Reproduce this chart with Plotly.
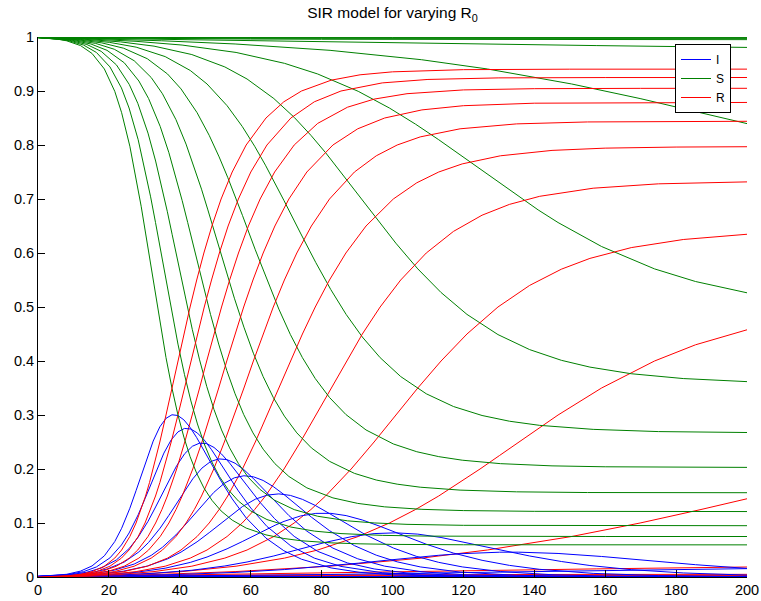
import plotly.graph_objects as go

# ---- tick values ----
x_ticks = [0, 20, 40, 60, 80, 100, 120, 140, 160, 180, 200]
x_tick_labels = ["0", "20", "40", "60", "80", "100", "120", "140", "160", "180", "200"]
y_ticks = [0, 0.1, 0.2, 0.3, 0.4, 0.5, 0.6, 0.7, 0.8, 0.9, 1.0]
y_tick_labels = ["0", "0.1", "0.2", "0.3", "0.4", "0.5", "0.6", "0.7", "0.8", "0.9", "1"]

# ---- R0 = 0.2 ----
t_r02 = [0, 10, 20, 40, 60, 100, 200]
s_r02 = [0.999, 0.9989, 0.9988, 0.9988, 0.9988, 0.9988, 0.9988]
i_r02 = [0.001, 0.00045, 0.0002, 0.00004, 0.00001, 0.0, 0.0]
r_r02 = [0, 0.00069, 0.0010, 0.0012, 0.00124, 0.00125, 0.00125]

# ---- R0 = 0.4 ----
t_r04 = [0, 10, 20, 40, 60, 100, 200]
s_r04 = [0.999, 0.9987, 0.9985, 0.9984, 0.9984, 0.9983, 0.9983]
i_r04 = [0.001, 0.00055, 0.0003, 0.00009, 0.00003, 0.000002, 0.0]
r_r04 = [0, 0.00075, 0.00117, 0.00152, 0.00162, 0.00166, 0.00167]

# ---- R0 = 0.6 ----
t_r06 = [0, 20, 40, 60, 80, 100, 140, 200]
s_r06 = [0.999, 0.9982, 0.9978, 0.9976, 0.9976, 0.9975, 0.9975, 0.9975]
i_r06 = [0.001, 0.00045, 0.00020, 0.00009, 0.00004, 0.00002, 0.000004, 0.0]
r_r06 = [0, 0.00138, 0.0020, 0.00227, 0.0024, 0.00245, 0.00249, 0.0025]

# ---- R0 = 0.8 ----
t_r08 = [0, 20, 40, 60, 80, 100, 140, 200]
s_r08 = [0.999, 0.9977, 0.9968, 0.9962, 0.9958, 0.9955, 0.9952, 0.9951]
i_r08 = [0.001, 0.00067, 0.00045, 0.00030, 0.00020, 0.000135, 0.00006, 0.00002]
r_r08 = [0, 0.00165, 0.00275, 0.00349, 0.00399, 0.00432, 0.0047, 0.00491]

# ---- R0 = 1.0 ----
t_r10 = [0, 20.04, 50.34, 102.32, 157.45, 200]
s_r10 = [0.999, 0.9970, 0.9940, 0.9891, 0.9841, 0.9807]
i_r10 = [0.001, 0.00100, 0.00098, 0.00094, 0.00087, 0.00080]
r_r10 = [0, 0.002, 0.005, 0.01, 0.015, 0.0185]

# ---- R0 = 1.2 ----
t_r12 = [0, 9.12, 16.84, 34.90, 55.60, 82.39, 108.22, 126.76, 150.53, 169.84, 187.02, 200]
s_r12 = [0.999, 0.9978, 0.9966, 0.9930, 0.9871, 0.9753, 0.9579, 0.9408, 0.9130, 0.8860, 0.8598, 0.8396]
i_r12 = [0.001, 0.0012, 0.0014, 0.0020, 0.0029, 0.0047, 0.0071, 0.0092, 0.0120, 0.0140, 0.0152, 0.0155]
r_r12 = [0, 0.001, 0.002, 0.005, 0.01, 0.02, 0.035, 0.05, 0.075, 0.1, 0.125, 0.1449]

# ---- R0 = 1.4 ----
t_r14 = [0, 8.42, 14.71, 27.65, 40.64, 55.88, 69.55, 78.90, 90.33, 99.12, 106.50, 113.03,
         119.04, 124.69, 130.19, 135.61, 141.09, 146.70, 158.98, 173.91, 185.47, 200]
s_r14 = [0.999, 0.9976, 0.9962, 0.9920, 0.9851, 0.9714, 0.9512, 0.9315, 0.8994, 0.8685, 0.8386, 0.8098,
         0.7819, 0.7550, 0.7291, 0.7040, 0.6798, 0.6564, 0.6120, 0.5706, 0.5472, 0.5263]
i_r14 = [0.001, 0.0014, 0.0018, 0.0030, 0.0049, 0.0086, 0.0138, 0.0185, 0.0256, 0.0315, 0.0364, 0.0402,
         0.0431, 0.0450, 0.0459, 0.0460, 0.0452, 0.0436, 0.0380, 0.0294, 0.0228, 0.0159]
r_r14 = [0, 0.001, 0.002, 0.005, 0.01, 0.02, 0.035, 0.05, 0.075, 0.1, 0.125, 0.15,
         0.175, 0.2, 0.225, 0.25, 0.275, 0.3, 0.35, 0.4, 0.43, 0.4578]

# ---- R0 = 1.6 ----
t_r16 = [0, 7.84, 13.15, 23.25, 32.73, 43.39, 52.70, 58.97, 66.53, 72.26, 76.99, 81.12, 88.34,
         94.80, 100.94, 107.14, 113.70, 121.01, 129.75, 138.69, 147.63, 155.69, 167.35, 182.02, 200]
s_r16 = [0.999, 0.9974, 0.9958, 0.9910, 0.9831, 0.9675, 0.9446, 0.9222, 0.8860, 0.8513, 0.8179, 0.7858, 0.7254,
         0.6697, 0.6182, 0.5706, 0.5268, 0.4863, 0.4489, 0.4211, 0.4013, 0.3887, 0.3764, 0.3675, 0.3618]
i_r16 = [0.001, 0.0016, 0.0022, 0.0040, 0.0069, 0.0125, 0.0204, 0.0278, 0.0390, 0.0487, 0.0571, 0.0642, 0.0746,
         0.0804, 0.0818, 0.0794, 0.0732, 0.0637, 0.0511, 0.0389, 0.0287, 0.0213, 0.0136, 0.0075, 0.0035]
r_r16 = [0, 0.001, 0.002, 0.005, 0.01, 0.02, 0.035, 0.05, 0.075, 0.1, 0.125, 0.15, 0.2,
         0.25, 0.3, 0.35, 0.4, 0.45, 0.5, 0.54, 0.57, 0.59, 0.61, 0.625, 0.6347]

# ---- R0 = 1.8 ----
t_r18 = [0, 7.35, 11.95, 20.22, 27.68, 35.88, 42.95, 47.68, 53.34, 57.61, 61.12, 64.16, 66.89, 69.40,
         74.03, 78.37, 82.61, 86.92, 91.49, 96.51, 102.31, 109.52, 117.20, 125.26, 132.98, 141.52, 156.61, 175, 200]
s_r18 = [0.999, 0.9972, 0.9954, 0.9900, 0.9812, 0.9637, 0.9380, 0.9130, 0.8728, 0.8344, 0.7977, 0.7626, 0.7291, 0.6970,
         0.6370, 0.5822, 0.5321, 0.4863, 0.4444, 0.4062, 0.3712, 0.3393, 0.3157, 0.2991, 0.2885, 0.2808, 0.2734, 0.2693, 0.2676]
i_r18 = [0.001, 0.0018, 0.0026, 0.0050, 0.0088, 0.0163, 0.0270, 0.0370, 0.0522, 0.0656, 0.0773, 0.0874, 0.0959, 0.1030,
         0.1130, 0.1178, 0.1179, 0.1137, 0.1056, 0.0938, 0.0788, 0.0607, 0.0443, 0.0309, 0.0215, 0.0142, 0.0067, 0.0026, 0.0007]
r_r18 = [0, 0.001, 0.002, 0.005, 0.01, 0.02, 0.035, 0.05, 0.075, 0.1, 0.125, 0.15, 0.175, 0.2,
         0.25, 0.3, 0.35, 0.4, 0.45, 0.5, 0.55, 0.6, 0.64, 0.67, 0.69, 0.705, 0.72, 0.7281, 0.7317]

# ---- R0 = 2.0 ----
t_r20 = [0, 6.94, 11.00, 18.00, 24.16, 30.83, 36.54, 40.34, 44.88, 48.29, 51.09, 53.51, 55.68, 57.67, 61.30, 64.67,
         67.94, 71.20, 74.59, 78.21, 82.22, 86.85, 92.53, 100.23, 106.84, 113.04, 119.67, 130.43, 145, 160, 180, 200]
s_r20 = [0.999, 0.9970, 0.9950, 0.9891, 0.9792, 0.9598, 0.9315, 0.9039, 0.8598, 0.8179, 0.7780, 0.7401, 0.7040, 0.6697,
         0.6059, 0.5483, 0.4961, 0.4489, 0.4062, 0.3675, 0.3325, 0.3009, 0.2723, 0.2464, 0.2320, 0.2229, 0.2163, 0.2099,
         0.2058, 0.2041, 0.2033, 0.2030]
i_r20 = [0.001, 0.0020, 0.0030, 0.0059, 0.0108, 0.0202, 0.0335, 0.0461, 0.0652, 0.0821, 0.0970, 0.1099, 0.1210, 0.1304,
         0.1441, 0.1517, 0.1539, 0.1511, 0.1438, 0.1325, 0.1175, 0.0991, 0.0777, 0.0537, 0.0380, 0.0271, 0.0187, 0.0101,
         0.0042, 0.0017, 0.0005, 0.0002]
r_r20 = [0, 0.001, 0.002, 0.005, 0.01, 0.02, 0.035, 0.05, 0.075, 0.1, 0.125, 0.15, 0.175, 0.2, 0.25, 0.3,
         0.35, 0.4, 0.45, 0.5, 0.55, 0.6, 0.65, 0.7, 0.73, 0.75, 0.765, 0.78, 0.79, 0.7942, 0.7962, 0.7968]

# ---- R0 = 2.2 ----
t_r22 = [0, 6.57, 10.21, 16.28, 21.52, 27.14, 31.93, 35.11, 38.91, 41.76, 44.10, 46.12, 47.92, 49.58, 52.57, 55.39,
         58.09, 60.75, 63.50, 66.37, 69.50, 73.01, 77.12, 82.23, 89.26, 95.42, 101.32, 107.81, 119.06, 135, 155, 180, 200]
s_r22 = [0.999, 0.9968, 0.9946, 0.9881, 0.9773, 0.9560, 0.9250, 0.8949, 0.8470, 0.8017, 0.7588, 0.7182, 0.6798, 0.6434,
         0.5764, 0.5163, 0.4626, 0.4144, 0.3712, 0.3325, 0.2979, 0.2669, 0.2391, 0.2142, 0.1919, 0.1796, 0.1719, 0.1663,
         0.1609, 0.1577, 0.1564, 0.1561, 0.1561]
i_r22 = [0.001, 0.0022, 0.0034, 0.0069, 0.0127, 0.0240, 0.0400, 0.0551, 0.0780, 0.0983, 0.1162, 0.1318, 0.1452, 0.1566,
         0.1736, 0.1837, 0.1875, 0.1856, 0.1788, 0.1675, 0.1521, 0.1331, 0.1109, 0.0858, 0.0581, 0.0404, 0.0281, 0.0187,
         0.0091, 0.0032, 0.0009, 0.0002, 0.0]
r_r22 = [0, 0.001, 0.002, 0.005, 0.01, 0.02, 0.035, 0.05, 0.075, 0.1, 0.125, 0.15, 0.175, 0.2, 0.25, 0.3,
         0.35, 0.4, 0.45, 0.5, 0.55, 0.6, 0.65, 0.7, 0.75, 0.78, 0.8, 0.815, 0.83, 0.8391, 0.8427, 0.8437, 0.8439]

# ---- R0 = 2.4 ----
t_r24 = [0, 6.26, 9.54, 14.91, 19.47, 24.34, 28.46, 31.20, 34.47, 36.92, 38.93, 40.67, 42.23, 43.66, 46.25, 48.66,
         50.97, 53.25, 55.59, 58.02, 60.64, 63.52, 66.82, 70.77, 75.84, 83.19, 90.19, 97.79, 108.30, 120, 140, 170, 200]
s_r24 = [0.999, 0.9966, 0.9942, 0.9871, 0.9753, 0.9522, 0.9185, 0.8860, 0.8344, 0.7858, 0.7401, 0.6970, 0.6564, 0.6182,
         0.5483, 0.4863, 0.4313, 0.3825, 0.3393, 0.3009, 0.2669, 0.2367, 0.2099, 0.1862, 0.1651, 0.1465, 0.1363, 0.1299,
         0.1253, 0.1230, 0.1216, 0.1213, 0.1212]
i_r24 = [0.001, 0.0024, 0.0038, 0.0079, 0.0147, 0.0278, 0.0465, 0.0640, 0.0906, 0.1142, 0.1349, 0.1530, 0.1686, 0.1818,
         0.2017, 0.2137, 0.2187, 0.2175, 0.2107, 0.1991, 0.1831, 0.1633, 0.1401, 0.1138, 0.0849, 0.0535, 0.0337, 0.0201,
         0.0097, 0.0042, 0.0010, 0.0001, 0.0]
r_r24 = [0, 0.001, 0.002, 0.005, 0.01, 0.02, 0.035, 0.05, 0.075, 0.1, 0.125, 0.15, 0.175, 0.2, 0.25, 0.3,
         0.35, 0.4, 0.45, 0.5, 0.55, 0.6, 0.65, 0.7, 0.75, 0.8, 0.83, 0.85, 0.865, 0.8728, 0.8774, 0.8786, 0.8788]

# ---- R0 = 2.6 ----
t_r26 = [0, 5.98, 8.98, 13.79, 17.83, 22.12, 25.75, 28.15, 31.03, 33.18, 34.96, 36.49, 37.86, 39.12, 41.40, 43.54,
         45.58, 47.59, 49.65, 51.78, 54.06, 56.55, 59.35, 62.66, 66.75, 72.27, 78.90, 87.31, 94.83, 104.09, 120, 140, 170, 200]
s_r26 = [0.999, 0.9964, 0.9938, 0.9861, 0.9734, 0.9484, 0.9121, 0.8772, 0.8220, 0.7703, 0.7218, 0.6764, 0.6338, 0.5939,
         0.5215, 0.4579, 0.4021, 0.3531, 0.3101, 0.2723, 0.2391, 0.2099, 0.1843, 0.1619, 0.1421, 0.1248, 0.1125, 0.1040,
         0.1001, 0.0975, 0.0957, 0.0952, 0.0950, 0.0950]
i_r26 = [0.001, 0.0026, 0.0042, 0.0089, 0.0166, 0.0316, 0.0529, 0.0728, 0.1030, 0.1297, 0.1532, 0.1736, 0.1912, 0.2061,
         0.2285, 0.2421, 0.2479, 0.2469, 0.2399, 0.2277, 0.2109, 0.1901, 0.1657, 0.1381, 0.1079, 0.0752, 0.0475, 0.0260,
         0.0149, 0.0075, 0.0023, 0.0005, 0.0001, 0.0]
r_r26 = [0, 0.001, 0.002, 0.005, 0.01, 0.02, 0.035, 0.05, 0.075, 0.1, 0.125, 0.15, 0.175, 0.2, 0.25, 0.3,
         0.35, 0.4, 0.45, 0.5, 0.55, 0.6, 0.65, 0.7, 0.75, 0.8, 0.84, 0.87, 0.885, 0.895, 0.902, 0.9043, 0.9049, 0.905]

# ---- R0 = 2.8 ----
t_r28 = [0, 5.72, 8.49, 12.84, 16.47, 20.30, 23.54, 25.69, 28.26, 30.19, 31.77, 33.15, 34.38, 35.51, 37.57, 39.48,
         41.32, 43.13, 44.98, 46.90, 48.95, 51.16, 53.63, 56.53, 60.03, 64.58, 71.33, 77.94, 85.47, 97.10, 110, 130, 160, 200]
s_r28 = [0.999, 0.9962, 0.9934, 0.9851, 0.9714, 0.9446, 0.9057, 0.8685, 0.8098, 0.7550, 0.7040, 0.6564, 0.6120, 0.5706,
         0.4961, 0.4313, 0.3749, 0.3260, 0.2834, 0.2464, 0.2142, 0.1862, 0.1619, 0.1407, 0.1223, 0.1064, 0.0925, 0.0850,
         0.0804, 0.0771, 0.0757, 0.0751, 0.0750, 0.0750]
i_r28 = [0.001, 0.0028, 0.0046, 0.0099, 0.0186, 0.0354, 0.0593, 0.0815, 0.1152, 0.1450, 0.1710, 0.1936, 0.2130, 0.2294,
         0.2539, 0.2687, 0.2751, 0.2740, 0.2666, 0.2536, 0.2358, 0.2138, 0.1881, 0.1593, 0.1277, 0.0936, 0.0575, 0.0350,
         0.0196, 0.0079, 0.0029, 0.0006, 0.0001, 0.0]
r_r28 = [0, 0.001, 0.002, 0.005, 0.01, 0.02, 0.035, 0.05, 0.075, 0.1, 0.125, 0.15, 0.175, 0.2, 0.25, 0.3,
         0.35, 0.4, 0.45, 0.5, 0.55, 0.6, 0.65, 0.7, 0.75, 0.8, 0.85, 0.88, 0.9, 0.915, 0.9214, 0.9243, 0.9249, 0.925]

# ---- R0 = 3.0 ----
t_r30 = [0, 5.50, 8.05, 12.00, 15.25, 18.72, 21.65, 23.59, 25.91, 27.66, 29.10, 30.34, 31.46, 32.49, 34.37, 36.11,
         37.79, 39.45, 41.15, 42.90, 44.77, 46.79, 49.06, 51.65, 54.78, 58.72, 64.31, 69.34, 74.33, 82.69, 90.85,
         100, 120, 150, 200]
s_r30 = [0.999, 0.9960, 0.9930, 0.9841, 0.9695, 0.9408, 0.8994, 0.8598, 0.7977, 0.7401, 0.6866, 0.6370, 0.5910, 0.5483,
         0.4719, 0.4062, 0.3496, 0.3009, 0.2590, 0.2229, 0.1919, 0.1651, 0.1421, 0.1223, 0.1053, 0.0906, 0.0780, 0.0713,
         0.0671, 0.0632, 0.0614, 0.0604, 0.0597, 0.0595, 0.0595]
i_r30 = [0.001, 0.0030, 0.0050, 0.0109, 0.0205, 0.0392, 0.0656, 0.0902, 0.1273, 0.1599, 0.1884, 0.2130, 0.2340, 0.2517,
         0.2781, 0.2938, 0.3004, 0.2991, 0.2910, 0.2771, 0.2581, 0.2349, 0.2079, 0.1777, 0.1447, 0.1094, 0.0720, 0.0487,
         0.0329, 0.0168, 0.0086, 0.0041, 0.0008, 0.0001, 0.0]
r_r30 = [0, 0.001, 0.002, 0.005, 0.01, 0.02, 0.035, 0.05, 0.075, 0.1, 0.125, 0.15, 0.175, 0.2, 0.25, 0.3,
         0.35, 0.4, 0.45, 0.5, 0.55, 0.6, 0.65, 0.7, 0.75, 0.8, 0.85, 0.88, 0.9, 0.92, 0.93,
         0.9355, 0.9395, 0.9404, 0.9405]

runs = [
    (t_r02, s_r02, i_r02, r_r02), (t_r04, s_r04, i_r04, r_r04), (t_r06, s_r06, i_r06, r_r06),
    (t_r08, s_r08, i_r08, r_r08), (t_r10, s_r10, i_r10, r_r10), (t_r12, s_r12, i_r12, r_r12),
    (t_r14, s_r14, i_r14, r_r14), (t_r16, s_r16, i_r16, r_r16), (t_r18, s_r18, i_r18, r_r18),
    (t_r20, s_r20, i_r20, r_r20), (t_r22, s_r22, i_r22, r_r22), (t_r24, s_r24, i_r24, r_r24),
    (t_r26, s_r26, i_r26, r_r26), (t_r28, s_r28, i_r28, r_r28), (t_r30, s_r30, i_r30, r_r30),
]

BLUE = "rgb(0,0,255)"
GREEN = "rgb(0,128,0)"
RED = "rgb(255,0,0)"

fig = go.Figure()
first = True
for t, s, i, r in runs:
    for name, ys, col in (("I", i, BLUE), ("S", s, GREEN), ("R", r, RED)):
        n = min(len(t), len(ys))
        fig.add_trace(go.Scatter(
            x=t[:n], y=ys[:n], mode="lines", name=name,
            line=dict(color=col, width=1), showlegend=first, hoverinfo="skip"))
    first = False

FIG_W, FIG_H = 761, 601
fig.update_layout(
    width=FIG_W, height=FIG_H, autosize=False,
    margin=dict(l=38, r=14, t=37, b=24, autoexpand=False),
    paper_bgcolor="white", plot_bgcolor="white",
    font=dict(family="Liberation Sans, Arial, Helvetica, sans-serif", size=14.5, color="black"),
    title=dict(text="SIR model for varying R<sub>0</sub>", x=0.5, xref="paper", xanchor="center",
               y=1 - 13 / FIG_H, yref="container", yanchor="middle", font=dict(size=15.5, color="black")),
    legend=dict(x=(675 - 38) / 709, y=(577 - 44) / 540, xanchor="left", yanchor="top",
                bordercolor="black", borderwidth=1, bgcolor="white", font=dict(size=12),
                tracegroupgap=0),
    showlegend=True,
)
fig.update_xaxes(range=[0, 200], tickmode="array", tickvals=x_ticks, ticktext=x_tick_labels,
                 ticks="inside", ticklen=7, tickcolor="black", showline=True, linecolor="black",
                 linewidth=1, showgrid=False, zeroline=False, mirror=False, automargin=False)
fig.update_yaxes(range=[0, 1], tickmode="array", tickvals=y_ticks, ticktext=y_tick_labels,
                 ticks="inside", ticklen=7, tickcolor="black", showline=True, linecolor="black",
                 linewidth=1, showgrid=False, zeroline=False, mirror=False, automargin=False)

# remove the browser's default 8px page margin so the 761x601 figure fills the window exactly
fig.write_html("out.html", config={"displayModeBar": False},
               post_script="document.body.style.margin='0';document.body.style.overflow='hidden';")
